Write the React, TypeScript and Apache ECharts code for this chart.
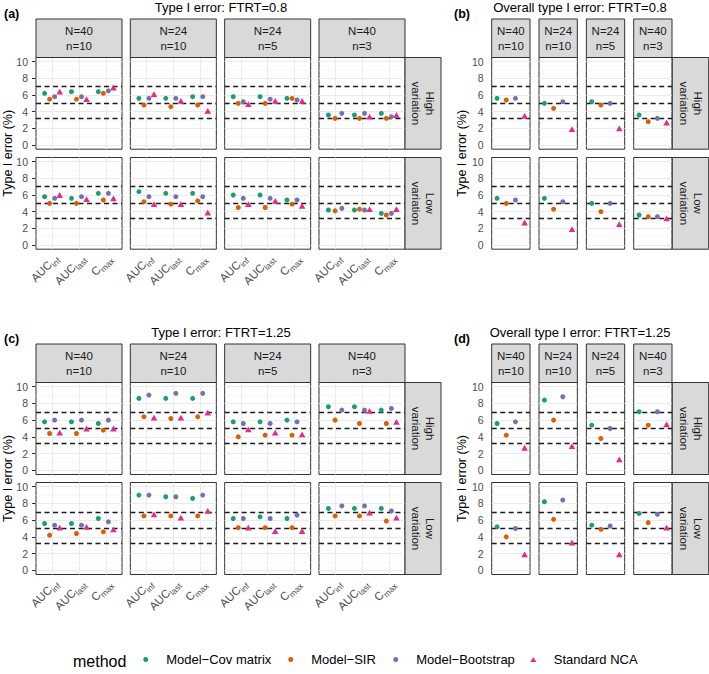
import React, { useEffect, useRef } from 'react';
import * as echarts from 'echarts';

const FONT = "'Liberation Sans', Arial, Helvetica, sans-serif";

const METHODS = ['Model\u2212Cov matrix', 'Model\u2212SIR', 'Model\u2212Bootstrap', 'Standard NCA'];
const COLORS = ['#1B9E77', '#D95F02', '#7570B3', '#E7298A'];
const PARAM_MAIN = ['AUC', 'AUC', 'C'];
const PARAM_SUB = ['inf', 'last', 'max'];
const DESIGNS = ['N=40\nn=10', 'N=24\nn=10', 'N=24\nn=5', 'N=40\nn=3'];
const VARIATIONS = ['High\nvariation', 'Low\nvariation'];
const REF_LINES = [3.2, 5, 7];
const Y_TICKS = [0, 2, 4, 6, 8, 10];
const Y_MINOR = [1, 3, 5, 7, 9];
const X_TICKS = [1, 2, 3];

// (a) Type I error, FTRT=0.8 — per design (N=40 n=10, N=24 n=10, N=24 n=5, N=40 n=3): AUCinf, AUClast, Cmax
const A_HIGH_COV = [6.2, 6.4, 6.4, 5.6, 5.6, 5.8, 5.8, 5.8, 5.6, 3.6, 3.6, 3.8];
const A_HIGH_SIR = [5.5, 5.5, 6.2, 4.8, 4.6, 4.8, 5.0, 5.0, 5.6, 3.2, 3.2, 3.2];
const A_HIGH_BOOT = [5.8, 5.8, 6.5, 5.6, 5.6, 5.8, 5.2, 5.5, 5.4, 3.8, 3.8, 3.4];
const A_HIGH_NCA = [6.4, 5.5, 6.9, 6.1, 5.3, 4.1, 4.9, 5.3, 5.3, null, 3.4, 3.6];
const A_LOW_COV = [5.8, 5.6, 6.2, 6.4, 6.2, 6.2, 6.0, 6.0, 5.4, 4.2, 4.2, 3.8];
const A_LOW_SIR = [5.0, 5.0, 5.4, 5.2, 4.9, 5.3, 4.5, 4.5, 4.9, 4.1, 4.3, 3.6];
const A_LOW_BOOT = [5.6, 5.8, 6.2, 5.8, 5.8, 5.8, 5.6, 5.6, 5.4, 4.4, 4.2, 3.8];
const A_LOW_NCA = [6.0, 5.5, 5.6, 4.9, 4.9, 3.9, 4.9, 5.3, 4.7, null, 4.3, 4.3];

// (b) Overall type I error, FTRT=0.8 — per design
const B_HIGH_COV = [5.6, 5.0, 5.2, 3.6];
const B_HIGH_SIR = [5.4, 4.4, 4.8, 2.8];
const B_HIGH_BOOT = [5.6, 5.2, 5.0, 3.2];
const B_HIGH_NCA = [3.5, 1.9, 2.0, 2.7];
const B_LOW_COV = [5.6, 5.6, 5.0, 3.6];
const B_LOW_SIR = [5.0, 4.3, 4.0, 3.4];
const B_LOW_BOOT = [5.4, 5.2, 5.0, 3.4];
const B_LOW_NCA = [2.7, 1.9, 2.5, 3.2];

// (c) Type I error, FTRT=1.25
const C_HIGH_COV = [5.8, 5.8, 5.6, 8.6, 8.6, 8.6, 5.8, 5.8, 6.0, 7.6, 7.6, 7.2];
const C_HIGH_SIR = [4.4, 4.4, 4.8, 6.4, 6.2, 6.4, 4.0, 4.2, 4.2, 6.0, 5.6, 5.6];
const C_HIGH_BOOT = [6.0, 6.0, 6.0, 9.0, 9.2, 9.2, 5.6, 5.6, 5.8, 7.2, 7.2, 7.4];
const C_HIGH_NCA = [4.5, 5.0, 5.0, 6.3, 6.3, 6.9, 4.9, 4.5, 4.3, null, 7.1, 5.8];
const C_LOW_COV = [5.6, 5.6, 6.2, 9.0, 8.8, 8.6, 6.2, 6.4, 6.2, 7.4, 7.4, 7.4];
const C_LOW_SIR = [4.2, 4.4, 4.6, 6.5, 6.5, 6.5, 5.1, 5.1, 5.1, 6.5, 6.5, 5.9];
const C_LOW_BOOT = [5.4, 5.4, 5.8, 9.0, 8.8, 9.0, 6.2, 6.2, 6.6, 7.7, 7.7, 7.1];
const C_LOW_NCA = [5.1, 5.2, 4.9, 6.7, 6.3, 7.1, 5.1, 4.7, 4.7, null, 6.9, 6.3];

// (d) Overall type I error, FTRT=1.25
const D_HIGH_COV = [5.6, 8.4, 5.4, 7.0];
const D_HIGH_SIR = [4.2, 6.0, 3.8, 5.4];
const D_HIGH_BOOT = [5.8, 8.8, 5.0, 7.0];
const D_HIGH_NCA = [2.7, 2.9, 1.3, 5.5];
const D_LOW_COV = [5.2, 8.2, 5.4, 6.8];
const D_LOW_SIR = [4.0, 6.1, 4.9, 5.7];
const D_LOW_BOOT = [5.0, 8.4, 5.3, 6.7];
const D_LOW_NCA = [1.9, 3.3, 1.9, 5.1];

const PANELS = [
  {
    label: '(a)', title: 'Type I error: FTRT=0.8', multi: true,
    x0: 36, step: 94.33, colW: 86, rowTops: [57.5, 157.5], rowH: 91.7, stripTop: 19,
    rsX: 405, rsW: 36, labelX: 4, titleX: 221, titleY: 7, ytX: 7.5,
    data: [[A_HIGH_COV, A_HIGH_SIR, A_HIGH_BOOT, A_HIGH_NCA], [A_LOW_COV, A_LOW_SIR, A_LOW_BOOT, A_LOW_NCA]],
  },
  {
    label: '(b)', title: 'Overall type I error: FTRT=0.8', multi: false,
    x0: 491.7, step: 47.33, colW: 38.3, rowTops: [57.5, 157.5], rowH: 91.7, stripTop: 19,
    rsX: 672.3, rsW: 36.4, labelX: 454, titleX: 580, titleY: 7, ytX: 462,
    data: [[B_HIGH_COV, B_HIGH_SIR, B_HIGH_BOOT, B_HIGH_NCA], [B_LOW_COV, B_LOW_SIR, B_LOW_BOOT, B_LOW_NCA]],
  },
  {
    label: '(c)', title: 'Type I error: FTRT=1.25', multi: true,
    x0: 36, step: 94.33, colW: 86, rowTops: [382.5, 482.5], rowH: 92, stripTop: 344,
    rsX: 405, rsW: 36, labelX: 4, titleX: 221, titleY: 332, ytX: 7.5,
    data: [[C_HIGH_COV, C_HIGH_SIR, C_HIGH_BOOT, C_HIGH_NCA], [C_LOW_COV, C_LOW_SIR, C_LOW_BOOT, C_LOW_NCA]],
  },
  {
    label: '(d)', title: 'Overall type I error: FTRT=1.25', multi: false,
    x0: 491.7, step: 47.33, colW: 38.3, rowTops: [382.5, 482.5], rowH: 92, stripTop: 344,
    rsX: 672.3, rsW: 36.4, labelX: 454, titleX: 580, titleY: 332, ytX: 462,
    data: [[D_HIGH_COV, D_HIGH_SIR, D_HIGH_BOOT, D_HIGH_NCA], [D_LOW_COV, D_LOW_SIR, D_LOW_BOOT, D_LOW_NCA]],
  },
];

const LEGEND_ICON_X = [145.7, 290.7, 395.7, 533.3];
const LEGEND_Y = 661;
const X_MIN = 0.4;
const X_MAX = 3.6;
const MAIN_SIZE = 11.5;
const SUB_SIZE = 8.5;
const LABEL_ANGLE = Math.PI / 4;

let measureCtx: CanvasRenderingContext2D | null = null;
function textWidth(text: string, size: number) {
  if (!measureCtx) measureCtx = document.createElement('canvas').getContext('2d');
  if (!measureCtx) return text.length * size * 0.55;
  measureCtx.font = `${size}px ${FONT}`;
  return measureCtx.measureText(text).width;
}

function txt(x: number, y: number, text: string, size: number, extra: any = {}, rotation = 0) {
  return {
    type: 'text', x, y, rotation, silent: true, z: 10,
    style: {
      text, fontSize: size, fontFamily: FONT, fill: extra.fill || '#000000',
      fontWeight: extra.fontWeight || 'normal',
      align: extra.align || 'center', verticalAlign: extra.verticalAlign || 'middle',
      textAlign: extra.align || 'center', textVerticalAlign: extra.verticalAlign || 'middle',
      lineHeight: extra.lineHeight,
    },
  };
}

// place a point given in the rotated label frame (lx along text, ly downwards) on screen
function rotPoint(ax: number, ay: number, lx: number, ly: number) {
  const c = Math.cos(LABEL_ANGLE), s = Math.sin(LABEL_ANGLE);
  return [ax + lx * c + ly * s, ay - lx * s + ly * c];
}

function buildOption() {
  const grid: any[] = [];
  const xAxis: any[] = [];
  const yAxis: any[] = [];
  const series: any[] = [];
  const graphic: any[] = [];

  PANELS.forEach((P) => {
    graphic.push(txt(P.labelX, P.titleY + 7, P.label, 12.5, { align: 'left', fontWeight: 'bold' }));
    graphic.push(txt(P.titleX, P.titleY, P.title, 13));
    const yMid = (P.rowTops[0] + P.rowTops[1] + P.rowH) / 2;
    graphic.push(txt(P.ytX, yMid, 'Type I error (%)', 12.5, {}, Math.PI / 2));
    DESIGNS.forEach((d, c) => {
      const left = P.x0 + c * P.step;
      const h = P.rowTops[0] - P.stripTop;
      graphic.push({
        type: 'rect', silent: true, z: 9,
        shape: { x: left, y: P.stripTop, width: P.colW, height: h },
        style: { fill: '#D9D9D9', stroke: '#333333', lineWidth: 1 },
      });
      graphic.push(txt(left + P.colW / 2, P.stripTop + h / 2, d, 11.5, { fill: '#1A1A1A', lineHeight: 14.5 }));

      // rotated x tick labels with subscripts (AUC_inf, AUC_last, C_max)
      if (P.multi) {
        const baseY = P.rowTops[1] + P.rowH + 3;
        X_TICKS.forEach((t, p) => {
          const tickX = left + ((t - X_MIN) / (X_MAX - X_MIN)) * P.colW;
          const wSub = textWidth(PARAM_SUB[p], SUB_SIZE);
          const [mx, my] = rotPoint(tickX, baseY, -wSub, 0);
          const [sx, sy] = rotPoint(tickX, baseY, 0, 5.5);
          graphic.push(txt(mx, my, PARAM_MAIN[p], MAIN_SIZE, { fill: '#4D4D4D', align: 'right', verticalAlign: 'top' }, LABEL_ANGLE));
          graphic.push(txt(sx, sy, PARAM_SUB[p], SUB_SIZE, { fill: '#4D4D4D', align: 'right', verticalAlign: 'top' }, LABEL_ANGLE));
        });
      }
    });
    VARIATIONS.forEach((v, r) => {
      graphic.push({
        type: 'rect', silent: true, z: 9,
        shape: { x: P.rsX, y: P.rowTops[r], width: P.rsW, height: P.rowH },
        style: { fill: '#D9D9D9', stroke: '#333333', lineWidth: 1 },
      });
      graphic.push(txt(P.rsX + P.rsW / 2, P.rowTops[r] + P.rowH / 2, v, 11.5, { fill: '#1A1A1A', lineHeight: 14 }, -Math.PI / 2));
    });

    for (let r = 0; r < 2; r++) {
      for (let c = 0; c < 4; c++) {
        const g = grid.length;
        grid.push({
          left: P.x0 + c * P.step, top: P.rowTops[r], width: P.colW, height: P.rowH,
          show: true, backgroundColor: '#FFFFFF', borderColor: '#333333', borderWidth: 1,
          containLabel: false, outerBoundsMode: 'none',
        });
        if (P.multi) {
          const showX = r === 1;
          xAxis.push({
            gridIndex: g, type: 'value', min: X_MIN, max: X_MAX,
            axisLine: { show: false }, splitLine: { show: false },
            axisTick: { show: showX, customValues: X_TICKS, length: 4, lineStyle: { color: '#333333', width: 1 } },
            axisLabel: { show: false },
          });
        } else {
          xAxis.push({ gridIndex: g, type: 'value', min: -1, max: 1, show: false, splitLine: { show: false } });
        }
        const showY = c === 0;
        yAxis.push({
          gridIndex: g, type: 'value', min: -0.5, max: 10.5,
          axisLine: { show: false }, splitLine: { show: false },
          axisTick: { show: showY, customValues: Y_TICKS, length: 4, lineStyle: { color: '#333333', width: 1 } },
          axisLabel: { show: showY, customValues: Y_TICKS, margin: 8, fontSize: 10.5, color: '#4D4D4D', fontFamily: FONT },
        });

        const lines: any[] = [];
        Y_MINOR.forEach((v) => lines.push({ yAxis: v, lineStyle: { color: '#F3F3F3', width: 0.6, type: 'solid' } }));
        Y_TICKS.forEach((v) => lines.push({ yAxis: v, lineStyle: { color: '#EBEBEB', width: 1.1, type: 'solid' } }));
        if (P.multi) X_TICKS.forEach((v) => lines.push({ xAxis: v, lineStyle: { color: '#EBEBEB', width: 1.1, type: 'solid' } }));
        REF_LINES.forEach((v) => lines.push({ yAxis: v, lineStyle: { color: '#1A1A1A', width: 1.4, type: [5, 3.5] } }));
        series.push({
          type: 'scatter', name: '_grid' + g, xAxisIndex: g, yAxisIndex: g, data: [], silent: true, z: 1,
          markLine: {
            silent: true, symbol: ['none', 'none'], label: { show: false }, z: 1,
            emphasis: { disabled: true }, animation: false, data: lines,
          },
        });

        const rowData = P.data[r];
        const pts: any[][] = [[], [], [], []];
        if (P.multi) {
          for (let p = 0; p < 3; p++) {
            const present: number[] = [];
            for (let m = 0; m < 4; m++) if (rowData[m][c * 3 + p] != null) present.push(m);
            const n = present.length;
            present.forEach((m, k) => {
              const off = (k - (n - 1) / 2) * (0.75 / n);
              pts[m].push([p + 1 + off, rowData[m][c * 3 + p]]);
            });
          }
        } else {
          for (let m = 0; m < 4; m++) {
            const v = rowData[m][c];
            if (v != null) pts[m].push([(m - 1.5) * 0.48, v]);
          }
        }
        for (let m = 0; m < 4; m++) {
          series.push({
            type: 'scatter', name: METHODS[m], xAxisIndex: g, yAxisIndex: g, z: 3,
            symbol: m === 3 ? 'triangle' : 'circle',
            symbolSize: m === 3 ? [6.6, 5.8] : 5,
            itemStyle: { color: COLORS[m], opacity: 1 },
            emphasis: { disabled: true },
            data: pts[m],
          });
        }
      }
    }
  });

  graphic.push(txt(73, LEGEND_Y, 'method', 16, { align: 'left' }));

  const legend = METHODS.map((name, i) => {
    const s = i === 3 ? 6 : 5;
    return {
      show: true, left: LEGEND_ICON_X[i] - s / 2, top: LEGEND_Y - 8, orient: 'horizontal', padding: 0,
      itemWidth: s, itemHeight: s, itemGap: 0, selectedMode: false,
      data: [i === 3 ? { name, icon: 'path://M5,0L10,8.66L0,8.66Z' } : { name, icon: 'circle' }],
      textStyle: { fontSize: 13, color: '#000000', fontFamily: FONT, padding: [0, 0, 0, 20.5 - s / 2 - 5] },
    };
  });

  return {
    animation: false,
    backgroundColor: '#FFFFFF',
    textStyle: { fontFamily: FONT },
    grid, xAxis, yAxis, series, graphic, legend,
  };
}

export default function App() {
  const ref = useRef<HTMLDivElement>(null);
  useEffect(() => {
    if (!ref.current) return;
    const chart = echarts.init(ref.current, null, { renderer: 'svg' });
    chart.setOption(buildOption() as any);
    return () => chart.dispose();
  }, []);
  return <div ref={ref} style={{ position: 'absolute', left: 0, top: 0, width: 709, height: 674, background: '#fff' }} />;
}
